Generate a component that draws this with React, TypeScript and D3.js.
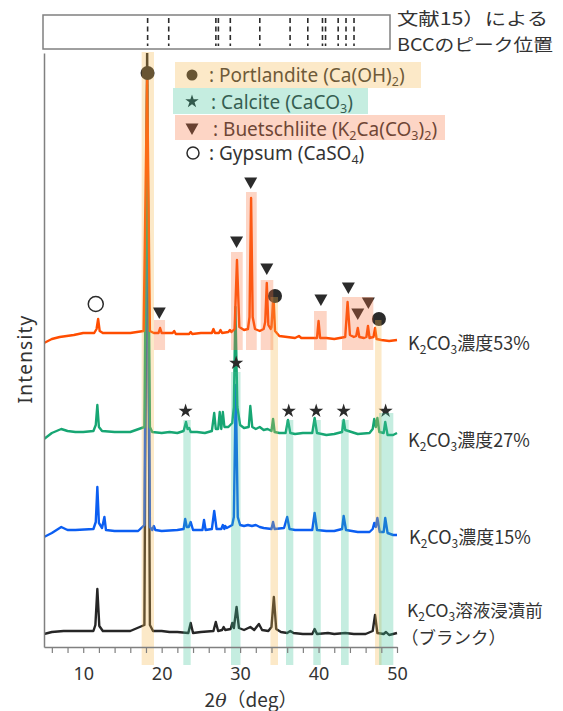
import React, { useEffect, useRef } from "react";
import * as d3 from "d3";

const W = 563;
const H = 711;

// XRD patterns: [2θ (deg), intensity (a.u.)], stacked with traceOffsets
const blank = [
  [5, 13], [6, 15], [7.5, 16], [10, 16], [11.3, 16], [11.55, 22], [11.8, 58], [12.05, 21], [12.5, 16],
  [14, 16], [16, 16], [17.8, 22], [18.15, 600], [18.5, 22], [18.9, 16], [20, 16], [21, 15], [22, 15],
  [23.4, 14], [23.7, 24], [24, 14], [25, 15], [26.6, 16], [26.9, 25], [27.2, 16], [27.7, 17], [27.9, 20],
  [28.1, 17], [28.8, 18], [29.0, 24], [29.2, 19], [29.55, 40], [29.85, 19], [30.5, 17], [31.3, 20],
  [31.8, 17], [32.4, 23], [32.8, 17], [33.6, 16], [34.0, 20], [34.3, 50], [34.6, 18], [35.2, 15],
  [36.0, 14], [36.4, 16], [36.8, 14], [38, 13], [39.2, 13], [39.5, 18], [39.8, 13], [41.2, 14], [42, 13],
  [43.4, 14], [44.5, 13], [46, 13], [46.9, 16], [47.2, 32], [47.5, 14], [48.3, 13], [48.6, 15], [49, 12],
  [50, 14],
];
const k15 = [
  [5, 10], [6, 14], [7.2, 20], [8, 17], [9, 17], [11.3, 18], [11.6, 25], [11.8, 60], [12.0, 24], [12.4, 19],
  [12.7, 30], [12.9, 17], [14, 16], [17, 16], [17.8, 22], [18.15, 457], [18.5, 20], [18.8, 17], [19.0, 21],
  [19.2, 17], [20, 16], [22, 17], [22.8, 18], [23.0, 28], [23.2, 20], [23.45, 20], [23.7, 25], [24, 17],
  [25.2, 17], [25.4, 27], [25.6, 17], [26.4, 18], [26.7, 36], [27.0, 18], [27.6, 18], [27.8, 22], [28.0, 18],
  [28.1, 21], [28.3, 19], [29.0, 22], [29.2, 30], [29.45, 162], [29.7, 30], [30, 22], [30.5, 21], [31, 22],
  [31.5, 21], [32, 22], [32.5, 20], [33, 19], [34.0, 18], [34.2, 25], [34.4, 18], [35.6, 19], [36.0, 30],
  [36.3, 18], [37, 17], [38, 17], [39.2, 17], [39.5, 34], [39.8, 17], [41, 16], [42, 16], [43.0, 18],
  [43.2, 31], [43.5, 17], [45, 15], [46.5, 15], [46.9, 18], [47.1, 24], [47.3, 20], [47.5, 29], [47.8, 15],
  [48.3, 15], [48.5, 29], [48.8, 14], [49.5, 12], [50, 12],
];
const k27 = [
  [5, 8], [6, 14], [7.2, 18], [8, 16], [9, 15], [10, 15], [11.3, 16], [11.6, 22], [11.8, 42], [12.0, 20],
  [12.4, 16], [14, 15], [16, 15], [17.8, 20], [18.15, 362], [18.5, 20], [18.8, 15], [20, 14], [21, 15],
  [22, 14], [22.8, 16], [23.1, 25], [23.3, 18], [23.5, 19], [23.7, 15], [24.5, 15], [25.5, 14], [26.4, 16],
  [26.7, 34], [26.9, 18], [27.2, 18], [27.4, 35], [27.6, 18], [27.8, 35], [28.0, 20], [28.5, 20], [29.0, 24],
  [29.2, 40], [29.4, 140], [29.65, 40], [30, 22], [30.5, 19], [31.1, 20], [31.3, 41], [31.55, 20], [32, 18],
  [32.5, 20], [33, 17], [33.5, 18], [34.0, 16], [34.2, 28], [34.4, 15], [35, 14], [35.8, 14], [36.1, 27],
  [36.4, 14], [37, 13], [38, 14], [39.2, 14], [39.5, 29], [39.8, 14], [41, 12], [42, 13], [43.0, 15],
  [43.2, 27], [43.4, 17], [45, 13], [46.5, 14], [46.9, 18], [47.1, 28], [47.3, 20], [47.5, 29], [47.75, 15],
  [48.3, 14], [48.5, 25], [48.8, 12], [49.5, 12], [50, 14],
];
const k53 = [
  [5, 4], [6, 8], [7, 10], [8.8, 12], [10, 14], [11.4, 14], [11.7, 18], [11.9, 28], [12.1, 16], [12.5, 14],
  [14, 14], [16, 14], [17.7, 16], [18.15, 272], [18.5, 16], [19, 14], [19.6, 14], [19.8, 19], [20.0, 14],
  [21.4, 14], [21.6, 16], [21.8, 13], [23.5, 13], [23.7, 15], [23.9, 13], [25, 14], [26.4, 14], [26.6, 18],
  [26.8, 14], [27.3, 14], [27.5, 17], [27.7, 14], [28.5, 15], [28.7, 17], [28.9, 15], [29.3, 18], [29.6, 87],
  [29.9, 20], [30.5, 17], [31.0, 18], [31.2, 30], [31.4, 149], [31.6, 30], [31.9, 18], [32.5, 16], [33.0, 18],
  [33.2, 25], [33.4, 64], [33.6, 22], [33.9, 18], [34.0, 20], [34.25, 52], [34.45, 16], [35, 11], [36, 10],
  [37, 9], [37.5, 11], [37.8, 9], [38.5, 9], [39.8, 9], [40.0, 26], [40.2, 9], [41, 9], [42, 8], [43.4, 10],
  [43.7, 45], [44.0, 12], [44.5, 10], [44.8, 11], [45.0, 19], [45.2, 10], [45.8, 9], [46.1, 10], [46.3, 21],
  [46.5, 9], [47.0, 10], [47.2, 19], [47.4, 8], [48, 7], [49, 6], [50, 7],
];
const traces = [blank, k15, k27, k53];
const traceOffsets = [0, 100, 200, 300];
const traceColors = ["#262626", "#0b5ef2", "#17a673", "#ff4d00"];

// phase markers: [2θ, intensity]
const portlanditeMarks = [[18.2, 574], [34.45, 351], [47.7, 328]];
const calciteMarks = [[23.05, 236], [29.5, 284], [36.2, 236], [39.7, 236], [43.2, 236], [48.55, 236]];
const buetschliiteMarks = [[19.7, 334], [29.55, 405], [31.35, 464], [33.4, 378], [40.3, 347], [43.8, 359], [45.0, 333], [46.35, 344]];
const gypsumMarks = [[11.6, 343]];

// highlighted peak regions: [2θ from, 2θ to, top intensity, bottom intensity]
const portlanditeBands = [[17.45, 19.02, 595, -18], [33.87, 34.83, 350, -18], [47.2, 48.03, 327, -18]];
const calciteBands = [
  [22.76, 23.7, 227, -18], [28.84, 30.05, 275, -18], [35.85, 36.78, 227, -18],
  [39.33, 40.28, 227, -18], [42.86, 43.84, 227, -18], [47.71, 49.53, 234, -18],
];
const buetschliiteBands = [
  [19.02, 20.43, 327, 297], [28.84, 30.33, 395, 297], [30.75, 32.12, 455, 297],
  [32.63, 34.23, 367, 297], [39.42, 41.04, 336, 297], [42.99, 46.98, 350, 297],
];

// literature BCC peak positions (2θ)
const bccRefPeaks = [18.21, 20.9, 26.91, 27.23, 28.75, 32.51, 36.37, 38.63, 40.5, 40.89, 42.5, 43.5, 44.52];

const xTicks = d3.range(6, 51, 2);

const YELLOW = "#f5b648";
const GREEN = "#3ec398";
const SALMON = "#f8733e";
const BAND_ALPHA = 0.3;
const INK = "#2b2b2b";
const TEXT = "#333";
const CJK = "'Noto Sans CJK JP', sans-serif";
const SANS = "'Noto Sans', sans-serif";

const x = d3.scaleLinear().domain([5, 50]).range([44, 397]);
const y = d3.scaleLinear().domain([0, 594]).range([647, 53]);

const triPath = "M-6.5,-5.5L6.5,-5.5L0,6Z";
const starPath = d3.symbol(d3.symbolStar, 62)() as string;

// K2CO3 with subscripts, followed by the rest of the label
function K2CO3(rest: string) {
  return (
    <>
      K<tspan fontSize={12} dy={4}>2</tspan>
      <tspan dy={-4}>CO</tspan>
      <tspan fontSize={12} dy={4}>3</tspan>
      <tspan dy={-4}>{rest}</tspan>
    </>
  );
}

export default function App() {
  const xAxisRef = useRef<SVGGElement>(null);
  const yAxisRef = useRef<SVGGElement>(null);

  useEffect(() => {
    const gx = d3.select(xAxisRef.current);
    gx.call(
      d3
        .axisBottom(x)
        .tickValues(xTicks)
        .tickSize(6)
        .tickSizeOuter(0)
        .tickFormat((d) => ((d as number) % 10 === 0 ? String(d) : ""))
    );
    gx.select(".domain").attr("stroke", "#808080").attr("stroke-width", 1.5);
    gx.selectAll(".tick line").attr("stroke", "#808080").attr("stroke-width", 1.2);
    gx.selectAll(".tick text")
      .attr("fill", TEXT)
      .attr("font-size", 18)
      .attr("font-family", SANS)
      .attr("y", 33)
      .attr("dy", 0);

    const gy = d3.select(yAxisRef.current);
    gy.call(d3.axisLeft(y).tickValues([]).tickSizeOuter(0));
    gy.select(".domain").attr("stroke", "#808080").attr("stroke-width", 1.5);
  }, []);

  const line = d3
    .line<number[]>()
    .x((d) => x(d[0]))
    .y((d) => y(d[1]));

  const bandRects = (bands: number[][], color: string, key: string) =>
    bands.map((b, i) => (
      <rect
        key={key + i}
        x={x(b[0])}
        width={x(b[1]) - x(b[0])}
        y={y(b[2])}
        height={y(b[3]) - y(b[2])}
        fill={color}
        fillOpacity={BAND_ALPHA}
      />
    ));

  return (
    <svg width={W} height={H} style={{ position: "absolute", left: 0, top: 0 }}>
      <defs>
        <clipPath id="plotClip">
          <rect x={44} y={53} width={360} height={600} />
        </clipPath>
      </defs>

      {/* literature peak box */}
      <rect x={43} y={15} width={347} height={34} fill="none" stroke="#808080" strokeWidth={1.5} />
      {bccRefPeaks.map((p, i) => (
        <line key={i} x1={x(p)} x2={x(p)} y1={18} y2={46} stroke={INK} strokeWidth={1.6} strokeDasharray="5,3.5" />
      ))}
      <g fontSize={17.5} fontFamily={CJK} fill={TEXT}>
        <text x={397} y={25} textLength={151} lengthAdjust="spacingAndGlyphs">文献15）による</text>
        <text x={397} y={51} textLength={156} lengthAdjust="spacingAndGlyphs">BCCのピーク位置</text>
      </g>

      {/* patterns */}
      <g clipPath="url(#plotClip)">
        {traces.map((t, i) => (
          <path
            key={i}
            d={line(t.map((d) => [d[0], d[1] + traceOffsets[i]])) as string}
            fill="none"
            stroke={traceColors[i]}
            strokeWidth={2.4}
            strokeLinejoin="round"
          />
        ))}
      </g>

      {/* markers */}
      {portlanditeMarks.map((m, i) => (
        <circle key={"p" + i} cx={x(m[0])} cy={y(m[1])} r={7} fill={INK} />
      ))}
      {calciteMarks.map((m, i) => (
        <path key={"c" + i} d={starPath} transform={`translate(${x(m[0])},${y(m[1])})`} fill={INK} />
      ))}
      {buetschliiteMarks.map((m, i) => (
        <path key={"b" + i} d={triPath} transform={`translate(${x(m[0])},${y(m[1])})`} fill={INK} />
      ))}
      {gypsumMarks.map((m, i) => (
        <circle key={"g" + i} cx={x(m[0])} cy={y(m[1])} r={7.5} fill="white" stroke={INK} strokeWidth={1.5} />
      ))}

      {/* peak bands over the patterns */}
      {bandRects(portlanditeBands, YELLOW, "pb")}
      {bandRects(calciteBands, GREEN, "cb")}
      {bandRects(buetschliiteBands, SALMON, "bb")}

      {/* axes */}
      <g ref={xAxisRef} transform="translate(0,647)" />
      <g ref={yAxisRef} transform="translate(44,0)" />
      <text x={251} y={707} textAnchor="middle" fontSize={19} fontFamily={CJK} fill={TEXT}>
        2<tspan fontStyle="italic" fontFamily="'DejaVu Serif', serif">θ</tspan>（deg）
      </text>
      <text
        transform="translate(32,359) rotate(-90)"
        textAnchor="middle"
        fontSize={19}
        fontFamily={SANS}
        letterSpacing={1.2}
        fill={TEXT}
      >
        Intensity
      </text>

      {/* legend */}
      <g fontFamily={SANS} fontSize={19} fill={TEXT}>
        <circle cx={192} cy={75} r={5.5} fill={INK} />
        <text x={209} y={82}>: Portlandite  (Ca(OH)<tspan fontSize={12.5} dy={4}>2</tspan><tspan dy={-4}>)</tspan></text>
        <path d={starPath} transform="translate(192,101.5) scale(0.95)" fill={INK} />
        <text x={211} y={109}>: Calcite  (CaCO<tspan fontSize={12.5} dy={4}>3</tspan><tspan dy={-4}>)</tspan></text>
        <path d={triPath} transform="translate(192,129)" fill={INK} />
        <text x={213} y={136}>:  Buetschliite  (K<tspan fontSize={12.5} dy={4}>2</tspan><tspan dy={-4}>Ca(CO</tspan><tspan fontSize={12.5} dy={4}>3</tspan><tspan dy={-4}>)</tspan><tspan fontSize={12.5} dy={4}>2</tspan><tspan dy={-4}>)</tspan></text>
        <circle cx={193} cy={153} r={6} fill="white" stroke={INK} strokeWidth={1.5} />
        <text x={209} y={160}>: Gypsum  (CaSO<tspan fontSize={12.5} dy={4}>4</tspan><tspan dy={-4}>)</tspan></text>
        <rect x={175} y={62} width={246} height={26} fill={YELLOW} fillOpacity={BAND_ALPHA} />
        <rect x={173} y={88} width={195} height={26} fill={GREEN} fillOpacity={BAND_ALPHA} />
        <rect x={175} y={115} width={270} height={25} fill={SALMON} fillOpacity={BAND_ALPHA} />
      </g>

      {/* pattern labels */}
      <g fontFamily={CJK} fontSize={18} fill={TEXT}>
        <text x={408} y={350}>{K2CO3("濃度53%")}</text>
        <text x={408} y={447}>{K2CO3("濃度27%")}</text>
        <text x={409} y={544}>{K2CO3("濃度15%")}</text>
        <text x={407} y={617} fontSize={17.5}>{K2CO3("溶液浸漬前")}</text>
        <text x={401} y={644} fontSize={17.5}>（ブランク）</text>
      </g>
    </svg>
  );
}
